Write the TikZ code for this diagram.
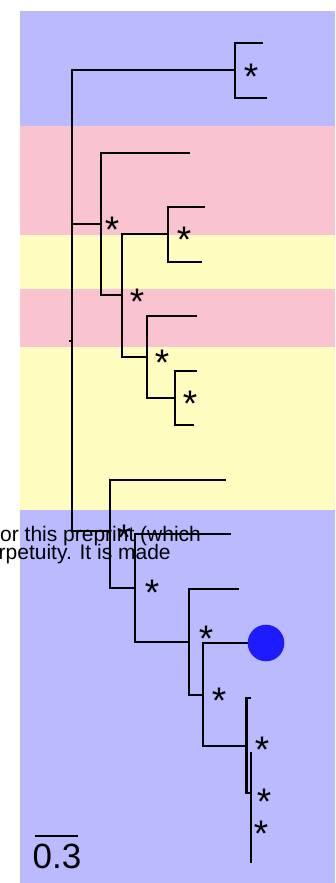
\documentclass[tikz,border=0pt]{standalone}
\usepackage{fontspec}
\newfontfamily\labelfont{Liberation Sans}
\definecolor{bandblue}{RGB}{187,186,255}
\definecolor{bandpink}{RGB}{249,195,208}
\definecolor{bandyellow}{RGB}{255,252,191}
\definecolor{dotblue}{RGB}{28,28,255}
\tikzset{
  branch/.style={line width=2.7pt, black},
  band/.style={draw=none},
  supp/.style={font=\labelfont\fontsize{37}{37}\selectfont, anchor=base, inner sep=0pt, yshift=-20.3pt},
  wmark/.style={font=\labelfont\fontsize{21}{21}\selectfont, anchor=base west, inner sep=0pt},
}
\begin{document}
\begin{tikzpicture}[x=1pt,y=-1pt]
\useasboundingbox (0,0) rectangle (335,883);
\fill[white] (0,0) rectangle (335,883);

% clade bands
\fill[band, bandblue]   (20,11)  rectangle (335,126);
\fill[band, bandpink]   (20,126) rectangle (335,235);
\fill[band, bandyellow] (20,235) rectangle (335,289);
\fill[band, bandpink]   (20,289) rectangle (335,347);
\fill[band, bandyellow] (20,347) rectangle (335,510);
\fill[band, bandblue]   (20,510) rectangle (335,883);

% stray text lines
\node[wmark] (wm1) at (0,541) {or this preprint (which};
\node[wmark] (wm2) at (-1.5,559) {rpetuity. It is made};

% internal nodes (x of the split, y where the parent branch joins)
\coordinate (R) at (72,341);
\coordinate (Rstub) at (69,341);
\coordinate (A) at (235,70);
\coordinate (B) at (101,224);
\coordinate (D) at (122,295);
\coordinate (E) at (168,234);
\coordinate (F) at (147,357);
\coordinate (G) at (175,398);
\coordinate (C) at (110,531);
\coordinate (H) at (135,588);
\coordinate (I) at (189,642);
\coordinate (J) at (203,695);
\coordinate (K) at (246.3,746);
\coordinate (L) at (251,793);

% tips
\coordinate (a1) at (263,43);
\coordinate (a2) at (267,98);
\coordinate (b1) at (190,153);
\coordinate (e1) at (205,207);
\coordinate (e2) at (202,262);
\coordinate (f1) at (197,316);
\coordinate (g1) at (197,371);
\coordinate (g2) at (194,425);
\coordinate (c1) at (226,480);
\coordinate (h1) at (231,534);
\coordinate (i1) at (239,589);
\coordinate (k1) at (250.5,698);
\coordinate (l1) at (251,752);
\coordinate (l2) at (251,863);

\node[circle, fill=dotblue, minimum size=36.6pt, inner sep=0pt] (dot) at (266,643) {};

% branches
\draw[branch] (Rstub) -- (R);
\draw[branch] (R) |- (A);
\draw[branch] (R) |- (B);
\draw[branch] (R) |- (C);
\draw[branch] (A) |- (a1);
\draw[branch] (A) |- (a2);
\draw[branch] (B) |- (b1);
\draw[branch] (B) |- (D);
\draw[branch] (D) |- (E);
\draw[branch] (D) |- (F);
\draw[branch] (E) |- (e1);
\draw[branch] (E) |- (e2);
\draw[branch] (F) |- (f1);
\draw[branch] (F) |- (G);
\draw[branch] (G) |- (g1);
\draw[branch] (G) |- (g2);
\draw[branch] (C) |- (c1);
\draw[branch] (C) |- (H);
\draw[branch] (H) |- (h1);
\draw[branch] (H) |- (I);
\draw[branch] (I) |- (i1);
\draw[branch] (I) |- (J);
\draw[branch] (J) |- (dot.west);
\draw[branch] (J) |- (K);
\draw[branch] (K) |- (k1);
\draw[branch] (K) |- (L);
\draw[branch, line width=2.2pt] (L) -- (l1);
\draw[branch, line width=2.2pt] (L) -- (l2);

% support marks
\node[supp] (s1)  at (251,69)  {*};
\node[supp] (s2)  at (112,222) {*};
\node[supp] (s3)  at (184,232) {*};
\node[supp] (s4)  at (137,294) {*};
\node[supp] (s5)  at (162,355) {*};
\node[supp] (s6)  at (190,396) {*};
\node[supp] (s7)  at (124,530) {*};
\node[supp] (s8)  at (152,585) {*};
\node[supp] (s9)  at (206,631) {*};
\node[supp] (s10) at (219,693) {*};
\node[supp] (s11) at (262,742) {*};
\node[supp] (s12) at (264,794) {*};
\node[supp] (s13) at (261,826) {*};

% scale bar
\coordinate (sb0) at (35,836);
\coordinate (sb1) at (78,836);
\draw[line width=2.2pt] (sb0) -- (sb1);
\node[font=\labelfont\fontsize{35}{35}\selectfont, anchor=base, inner sep=0pt] (sblabel) at (57,868) {0.3};
\end{tikzpicture}
\end{document}
